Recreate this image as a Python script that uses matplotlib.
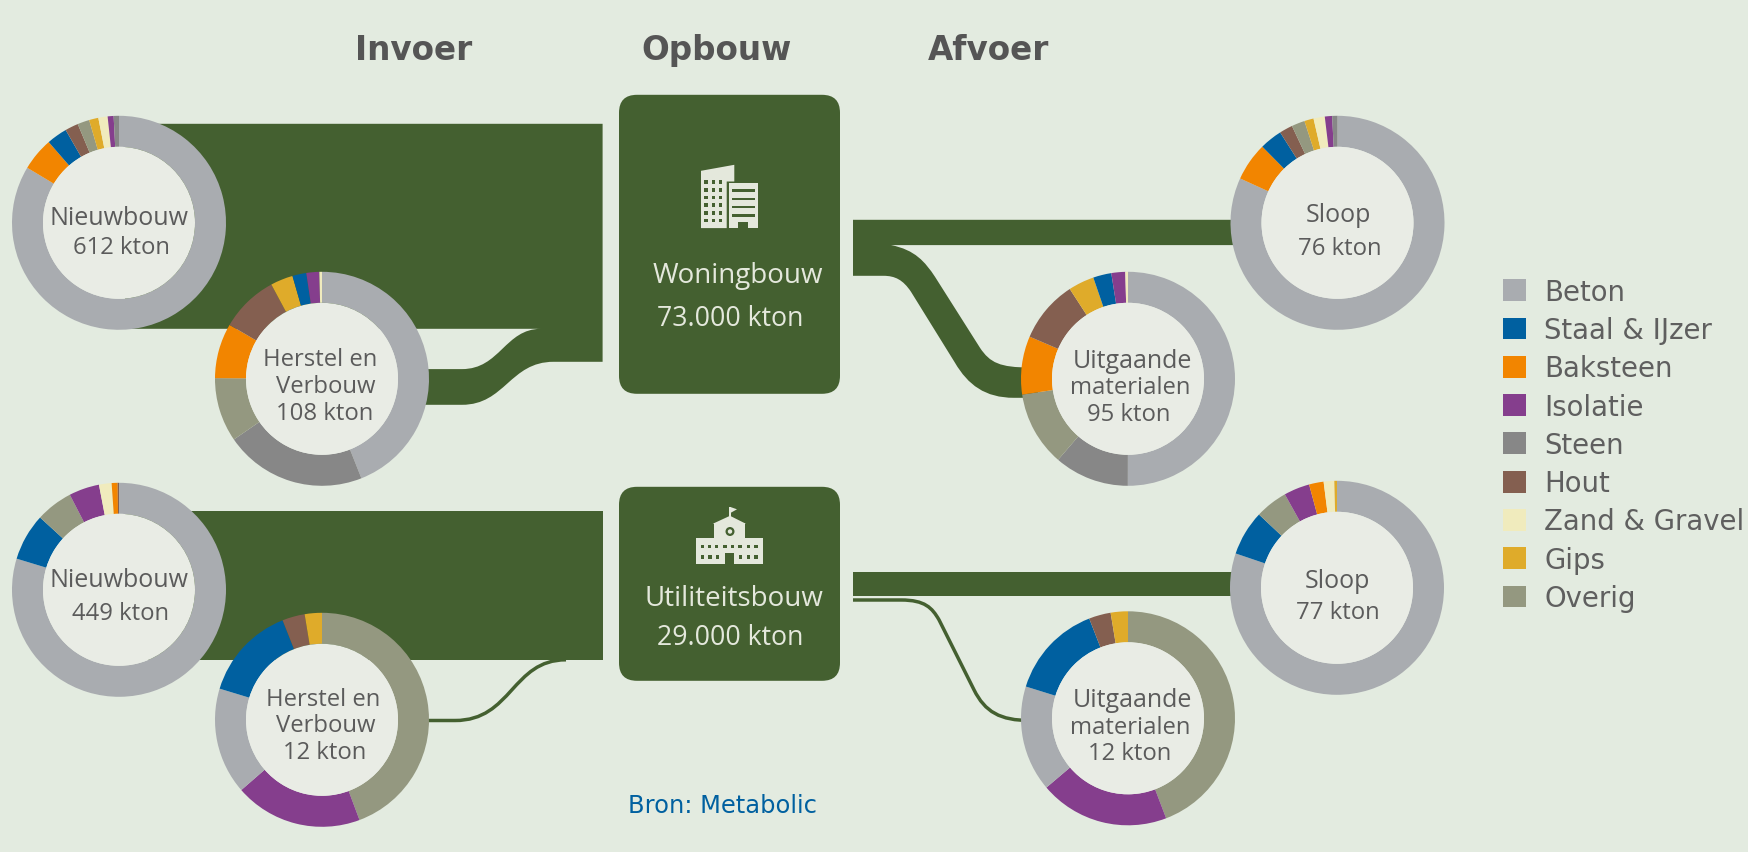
import matplotlib
matplotlib.use("Agg")
import matplotlib.pyplot as plt
from matplotlib.patches import Circle, FancyBboxPatch, PathPatch, Patch, Polygon, Rectangle
from matplotlib.path import Path

BG = "#e3ebe0"
GREEN = "#446030"
INNER = "#e9ece5"
LIGHT = "#e4e8dc"
TEXT = "#5b5b5b"

materials = ["Beton", "Staal & IJzer", "Baksteen", "Isolatie", "Steen", "Hout", "Zand & Gravel", "Gips", "Overig"]
material_colors = ["#a9acb0", "#0060a0", "#f28500", "#853e8d", "#878787", "#845f50", "#f0ebbd", "#dfab2a", "#949880"]

# shares in percent, clockwise from the top of each ring
new_w_order = ["Beton", "Baksteen", "Staal & IJzer", "Hout", "Overig", "Gips", "Zand & Gravel", "Isolatie", "Steen"]
new_w_share = [83.6, 5.0, 3.1, 2.0, 1.8, 1.4, 1.4, 0.9, 0.8]

reno_w_order = ["Beton", "Steen", "Overig", "Baksteen", "Hout", "Gips", "Staal & IJzer", "Isolatie", "Zand & Gravel"]
reno_w_share = [44.0, 21.4, 9.7, 8.3, 8.75, 3.4, 2.1, 1.95, 0.4]

demo_w_order = ["Beton", "Baksteen", "Staal & IJzer", "Hout", "Overig", "Gips", "Zand & Gravel", "Isolatie", "Steen"]
demo_w_share = [81.8, 5.8, 3.4, 2.0, 2.0, 1.4, 1.7, 1.1, 0.8]

out_w_order = ["Beton", "Steen", "Overig", "Baksteen", "Hout", "Gips", "Staal & IJzer", "Isolatie", "Zand & Gravel"]
out_w_share = [50.0, 11.3, 11.3, 8.8, 9.4, 3.9, 2.75, 2.1, 0.4]

new_u_order = ["Beton", "Staal & IJzer", "Overig", "Isolatie", "Zand & Gravel", "Baksteen", "Hout"]
new_u_share = [79.7, 7.1, 5.6, 4.6, 1.9, 0.9, 0.2]

reno_u_order = ["Overig", "Isolatie", "Beton", "Staal & IJzer", "Hout", "Gips"]
reno_u_share = [44.3, 19.3, 16.1, 14.3, 3.4, 2.6]

demo_u_order = ["Beton", "Staal & IJzer", "Overig", "Isolatie", "Baksteen", "Zand & Gravel", "Gips"]
demo_u_share = [80.2, 6.8, 4.9, 3.9, 2.2, 1.6, 0.4]

out_u_order = ["Overig", "Isolatie", "Beton", "Staal & IJzer", "Hout", "Gips"]
out_u_share = [44.2, 19.6, 16.0, 14.3, 3.3, 2.6]

color_of = dict(zip(materials, material_colors))

fig = plt.figure(figsize=(17.48, 8.53), dpi=100, facecolor=BG)
ax = fig.add_axes([0, 0, 1, 1])
ax.set_facecolor(BG)


def flow(verts, codes):
    ax.add_patch(PathPatch(Path(verts, codes), fc=GREEN, ec="none", zorder=1))


def thin_flow(verts, codes):
    ax.add_patch(PathPatch(Path(verts, codes), fc="none", ec=GREEN, lw=2.5, zorder=1))


M, L, C, Z = Path.MOVETO, Path.LINETO, Path.CURVE4, Path.CLOSEPOLY

# inflow woningbouw
flow([(125, 124), (602.6, 124), (602.6, 362), (553.6, 362), (510, 362), (505, 405), (462, 405),
      (400, 405), (400, 369.3), (462, 369.3), (500, 369.3), (505, 329), (541, 329), (125, 329), (125, 124)],
     [M, L, L, L, C, C, C, L, L, L, C, C, C, L, Z])
# inflow utiliteitsbouw
flow([(125, 511), (602.6, 511), (602.6, 660.5), (125, 660.5), (125, 511)], [M, L, L, L, Z])
thin_flow([(400, 720.7), (455, 720.7), (512, 720.7), (512, 660), (566, 660)], [M, L, C, C, C])

# outflow woningbouw
flow([(853, 220), (1250, 220), (1250, 245.3), (891, 245.3), (915, 250), (925, 262), (935, 277),
      (980, 348), (990, 363), (1000, 367.7), (1030, 367.7), (1040, 398), (1014, 398),
      (985, 398), (968, 385), (955, 363), (911, 292), (903, 280), (895, 276), (883.5, 276),
      (853, 276), (853, 220)],
     [M, L, L, L, C, C, C, L, C, C, C, L, L, C, C, C, L, C, C, C, L, Z])
# outflow utiliteitsbouw
flow([(853, 571.7), (1250, 571.7), (1250, 596.4), (853, 596.4), (853, 571.7)], [M, L, L, L, Z])
thin_flow([(853, 600.2), (901, 600.2), (925, 600.2), (932, 608), (939, 620), (974, 690),
           (985, 712), (1000, 720.7), (1030, 720.7)],
          [M, L, C, C, C, L, C, C, C])

# centre boxes
for y0, y1 in [(95, 394), (487, 681)]:
    ax.add_patch(FancyBboxPatch((619, y0), 221, y1 - y0, boxstyle="round,pad=0,rounding_size=18",
                                fc=GREEN, ec="none", zorder=2))

# office building icon
ax.add_patch(Polygon([(701, 171), (734.3, 165), (734.3, 181.7), (726.7, 181.7), (726.7, 228.3), (701, 228.3)],
                     fc=LIGHT, ec="none", zorder=3))
ax.add_patch(Rectangle((729.3, 183.3), 29, 45, fc=LIGHT, ec="none", zorder=3))
for wx in [706, 713.3, 720.7]:
    for wy in [182.3, 190, 197.7, 205.3, 213, 220.7]:
        ax.add_patch(Rectangle((wx - 1.7, wy - 1.7), 3.4, 3.4, fc=GREEN, ec="none", zorder=4))
for wy in [190.7, 199.3, 207.3, 215.7]:
    ax.add_patch(Rectangle((732.3, wy - 1.2), 22.7, 2.4, fc=GREEN, ec="none", zorder=4))
ax.add_patch(Rectangle((738, 221.7), 10, 6.6, fc=GREEN, ec="none", zorder=4))

# school icon
ax.add_patch(Rectangle((696, 538.3), 67.3, 26, fc=LIGHT, ec="none", zorder=3))
ax.add_patch(Rectangle((714, 523.3), 31.3, 41, fc=LIGHT, ec="none", zorder=3))
ax.add_patch(Polygon([(712.7, 524), (730, 516), (746, 524)], fc=LIGHT, ec="none", zorder=3))
ax.add_patch(Rectangle((729.2, 506.7), 1.6, 10, fc=LIGHT, ec="none", zorder=3))
ax.add_patch(Polygon([(730.7, 507.3), (737, 509.5), (730.7, 513)], fc=LIGHT, ec="none", zorder=3))
ax.add_patch(Circle((730, 531.7), 4.5, fc=GREEN, ec="none", zorder=4))
ax.add_patch(Circle((730, 531.7), 2.2, fc=LIGHT, ec="none", zorder=5))
ax.add_patch(Rectangle((725, 553.3), 9.3, 11, fc=GREEN, ec="none", zorder=4))
for wx in [702.7, 709.3, 716.7, 725, 732.7, 740, 748.3, 756]:
    ax.add_patch(Rectangle((wx - 1.7, 545), 3.4, 3.4, fc=GREEN, ec="none", zorder=4))
for wx in [702.7, 710, 717.3, 740.7, 748.3, 756]:
    ax.add_patch(Rectangle((wx - 1.7, 555.6), 3.4, 3.4, fc=GREEN, ec="none", zorder=4))


def donut(cx, cy, order, share):
    # y axis runs downwards, so counterclock from -90 reads clockwise from the top
    ax.pie(share, colors=[color_of[m] for m in order], center=(cx, cy), radius=107, startangle=-90,
           counterclock=True, frame=True, wedgeprops=dict(width=31, linewidth=0, zorder=5))
    ax.add_patch(Circle((cx, cy), 76, fc=INNER, ec="none", zorder=6))


donut(119, 223, new_w_order, new_w_share)
donut(322, 379, reno_w_order, reno_w_share)
donut(1337.5, 223, demo_w_order, demo_w_share)
donut(1128, 379, out_w_order, out_w_share)
donut(119, 590, new_u_order, new_u_share)
donut(322, 720, reno_u_order, reno_u_share)
donut(1337, 588, demo_u_order, demo_u_share)
donut(1128, 718.5, out_u_order, out_u_share)


def ring_text(x, y, s, size=17.2):
    ax.text(x, y, s, family="Open Sans", fontsize=size, color=TEXT, ha="center", va="baseline", zorder=7)


def box_text(x, y, s, size):
    ax.text(x, y, s, family="Open Sans", fontsize=size, color=LIGHT, ha="center", va="baseline", zorder=7)


ring_text(119, 224, "Nieuwbouw", 18)
ring_text(121, 253.5, "612 kton")
ring_text(320.5, 365.7, "Herstel en")
ring_text(326, 392, "Verbouw")
ring_text(325, 419, "108 kton")
ring_text(119, 586, "Nieuwbouw", 18)
ring_text(120.6, 619.7, "449 kton")
ring_text(323.5, 705, "Herstel en")
ring_text(325.6, 731.7, "Verbouw")
ring_text(324.8, 758, "12 kton")
ring_text(1338.6, 221, "Sloop", 18)
ring_text(1339.4, 254, "76 kton")
ring_text(1132, 366.7, "Uitgaande", 18)
ring_text(1130.6, 393, "materialen")
ring_text(1129, 420, "95 kton")
ring_text(1337.8, 587, "Sloop", 18)
ring_text(1338, 618, "77 kton")
ring_text(1132, 706, "Uitgaande", 18)
ring_text(1130.6, 732.7, "materialen")
ring_text(1129.6, 759, "12 kton")

box_text(737.5, 282.7, "Woningbouw", 20)
box_text(730, 325, "73.000 kton", 19.2)
box_text(734, 605.7, "Utiliteitsbouw", 20)
box_text(730, 644, "29.000 kton", 19.2)

for tx, s in [(413.6, "Invoer"), (716, "Opbouw"), (989, "Afvoer")]:
    ax.text(tx, 59.5, s, fontsize=23.5, fontweight="bold", color="#555555", ha="center", va="baseline")

ax.text(722.5, 812.7, "Bron: Metabolic", fontsize=17.4, color="#0060a0", ha="center", va="baseline")

handles = [Patch(fc=c, ec="none", label=m) for m, c in zip(materials, material_colors)]
ax.legend(handles=handles, loc="upper left", bbox_to_anchor=(1503.3, 277.8), bbox_transform=ax.transData,
          frameon=False, fontsize=19.8, labelcolor="#5f5f5f", handlelength=0.84, handleheight=0.84,
          handletextpad=0.65, borderpad=0, borderaxespad=0, labelspacing=0.375)

ax.set_xlim(0, 1748)
ax.set_ylim(852.2, -0.8)
ax.axis("off")
fig.savefig("out.png", dpi=100, facecolor=BG)
